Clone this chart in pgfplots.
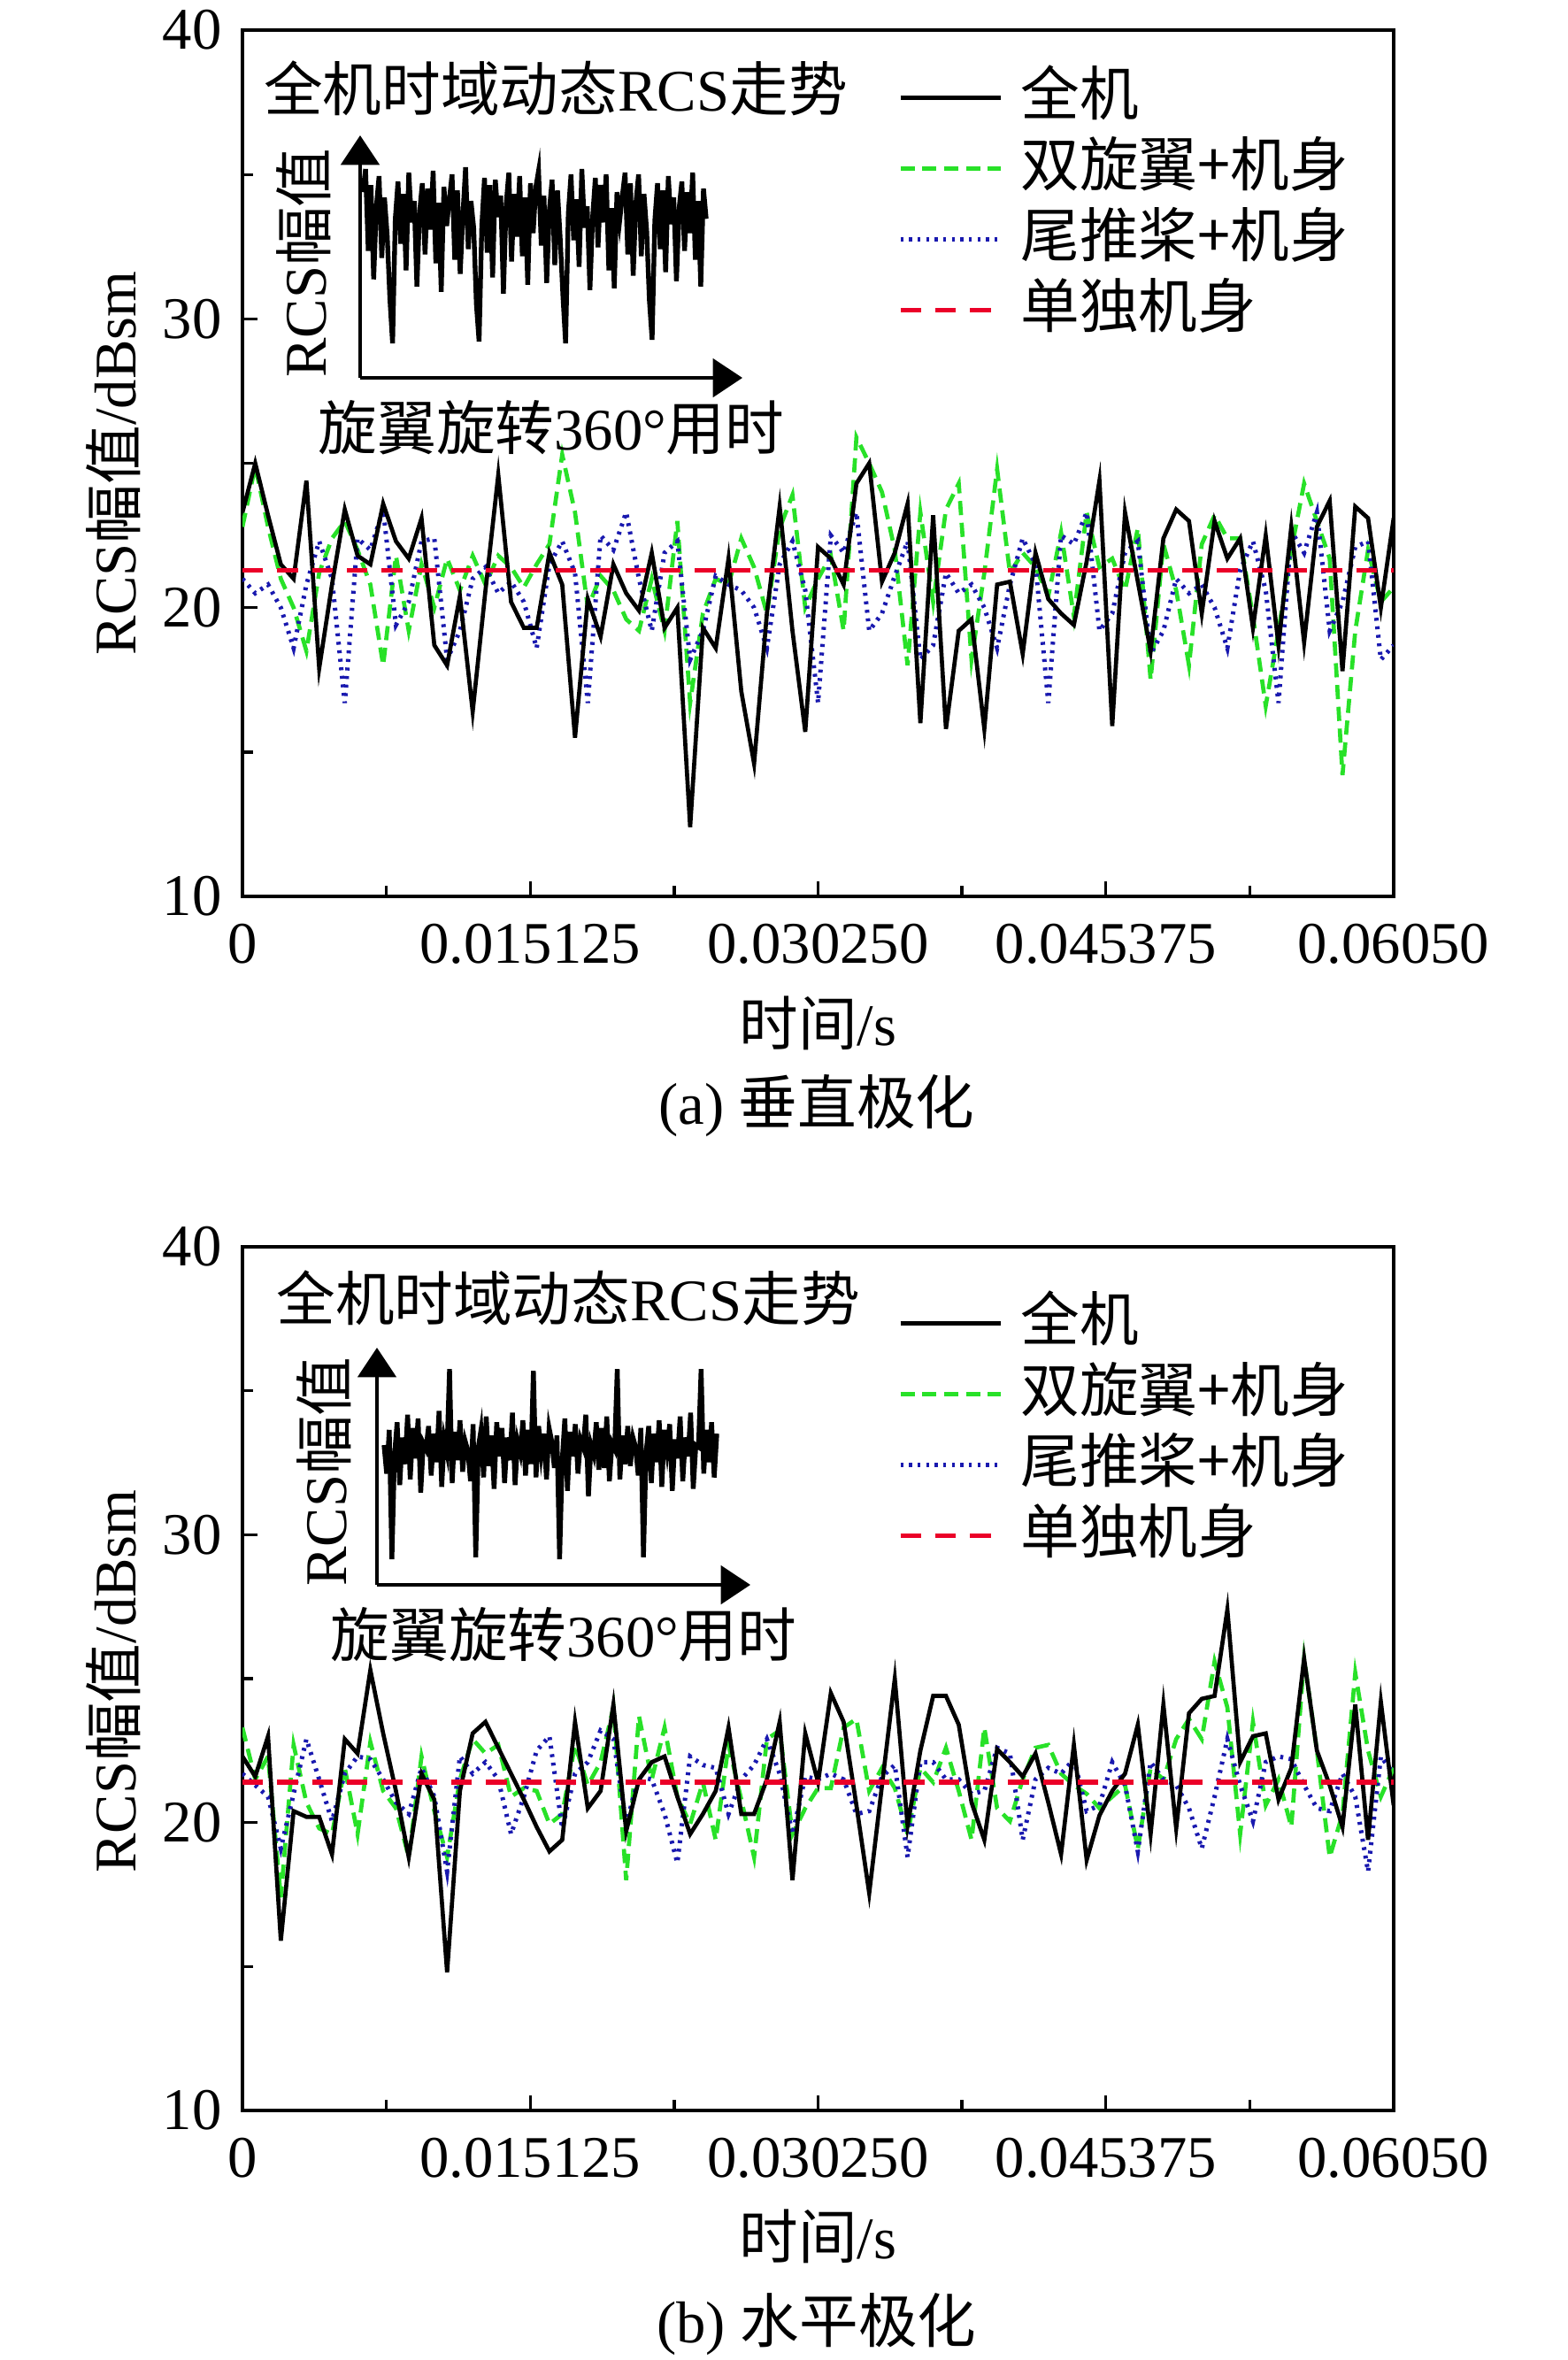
\documentclass[border=0pt]{standalone}
\usepackage{fontspec}
\setmainfont{Liberation Serif}
\newfontfamily\cjk{Noto Sans CJK SC}
\usepackage{pgfplots}
\usepackage{pgfplotstable}
\pgfplotsset{compat=1.18}
\usetikzlibrary{arrows.meta}

\definecolor{cgreen}{RGB}{40,225,40}
\definecolor{cblue}{RGB}{25,25,175}
\definecolor{cred}{RGB}{235,0,40}

% i = sample index (0..90, 4 deg per step), full / rotor / tail in dBsm
\pgfplotstableread{
i full rotor tail
0 23.3 22.8 21.0
1 25.0 24.9 20.5
2 23.2 22.8 20.8
3 21.5 21.0 20.0
4 21.0 20.0 18.6
5 24.4 18.5 20.8
6 17.9 21.2 22.3
7 20.8 22.4 21.0
8 23.4 23.0 16.7
9 21.8 22.0 22.4
10 21.5 20.8 22.0
11 23.6 18.0 23.4
12 22.3 21.8 19.4
13 21.7 19.2 20.2
14 23.1 21.5 22.3
15 18.7 20.0 22.4
16 18.0 21.7 18.2
17 20.4 20.6 19.2
18 16.4 21.8 21.0
19 20.6 20.8 21.4
20 24.6 21.8 20.5
21 20.2 21.4 20.9
22 19.3 20.7 20.2
23 19.3 21.5 18.6
24 21.9 22.2 21.5
25 20.8 25.3 22.3
26 15.5 23.3 21.2
27 20.3 20.0 16.7
28 19.0 21.1 22.5
29 21.5 20.6 22.0
30 20.5 19.6 23.3
31 19.9 19.2 21.0
32 21.9 21.0 19.2
33 19.3 19.2 21.9
34 20.0 23.0 22.3
35 12.4 16.7 18.2
36 19.3 19.8 19.2
37 18.6 21.0 21.1
38 21.7 20.8 20.8
39 17.1 22.4 20.6
40 14.6 21.4 20.0
41 19.8 19.8 18.6
42 23.5 22.75 21.5
43 19.2 23.9 22.3
44 15.7 20.0 20.6
45 22.1 21.0 16.7
46 21.7 21.8 22.5
47 20.8 19.2 21.9
48 24.3 25.9 23.3
49 25.0 25.0 19.2
50 20.9 24.0 19.8
51 21.9 22.0 21.1
52 23.6 18.0 22.3
53 16.0 23.3 18.2
54 23.2 20.2 18.7
55 15.8 23.4 21.2
56 19.2 24.3 20.5
57 19.6 18.2 20.8
58 15.8 21.2 20.0
59 20.8 24.8 18.6
60 20.9 21.2 20.8
61 18.4 21.9 22.4
62 21.9 21.4 21.5
63 20.3 20.4 16.7
64 19.8 22.6 22.5
65 19.4 19.7 22.2
66 21.6 23.3 23.3
67 24.4 21.4 19.2
68 15.9 21.7 19.8
69 23.3 20.6 21.9
70 20.9 22.75 22.3
71 18.5 17.5 18.4
72 22.4 22.2 19.2
73 23.4 20.6 21.0
74 23.0 18.0 20.5
75 19.8 22.2 20.8
76 23.0 23.2 20.0
77 21.7 22.4 18.6
78 22.4 22.4 21.3
79 19.3 19.7 22.3
80 22.5 16.6 20.6
81 18.7 19.2 16.7
82 22.8 22.0 22.65
83 18.8 24.3 21.9
84 22.8 23.0 23.3
85 23.7 21.7 19.2
86 17.8 14.2 20.2
87 23.5 19.2 22.1
88 23.1 22.0 22.3
89 20.0 20.2 18.2
90 23.1 20.7 18.7
}\dataA

\pgfplotstableread{
i full rotor tail
0 22.3 23.3 21.7
1 21.6 21.5 21.3
2 23.0 22.3 20.9
3 15.9 17.4 19.1
4 20.4 22.7 21.0
5 20.2 20.7 22.9
6 20.2 19.8 21.5
7 18.9 19.6 20.05
8 22.9 21.9 21.7
9 22.4 19.6 22.3
10 25.3 22.8 22.2
11 23.1 21.1 21.5
12 21.1 20.5 20.7
13 18.8 18.8 20.3
14 21.7 22.3 21.9
15 20.8 20.4 20.9
16 14.8 18.8 18.3
17 21.1 21.5 22.3
18 23.1 22.9 21.7
19 23.5 22.4 22.1
20 22.6 22.7 21.5
21 21.7 20.9 19.6
22 20.8 21.2 20.9
23 19.85 21.1 22.5
24 19.0 19.95 23.0
25 19.4 20.3 19.8
26 23.5 22.7 21.7
27 20.5 21.3 22.1
28 21.1 22.1 23.2
29 24.1 24.0 22.9
30 19.7 18.0 19.95
31 21.5 23.7 21.6
32 22.1 21.5 21.5
33 22.3 23.3 20.3
34 20.9 20.9 18.6
35 19.6 19.95 22.3
36 20.3 21.4 22.0
37 21.1 19.4 21.9
38 23.3 22.7 20.3
39 20.3 20.8 21.5
40 20.3 18.8 22.0
41 21.5 22.9 22.9
42 23.5 23.2 21.7
43 18.0 19.6 19.6
44 23.1 20.5 21.6
45 21.4 21.2 21.5
46 24.5 21.2 21.7
47 23.5 23.3 21.5
48 20.6 23.6 20.3
49 17.55 21.1 20.4
50 21.3 21.9 21.6
51 25.0 21.2 22.0
52 19.9 19.6 18.8
53 22.5 21.9 22.1
54 24.4 21.4 22.1
55 24.4 22.6 21.5
56 23.4 21.1 21.5
57 20.7 19.4 21.0
58 19.4 23.3 21.1
59 22.55 20.5 22.6
60 22.1 20.05 22.4
61 21.6 21.5 19.4
62 22.4 22.6 21.5
63 20.7 22.7 21.9
64 18.9 21.7 21.7
65 22.7 21.3 22.2
66 18.7 21.0 20.4
67 20.25 20.5 20.6
68 21.1 20.9 22.1
69 21.7 21.3 21.3
70 23.4 19.1 19.0
71 19.6 21.9 22.1
72 24.1 21.5 21.5
73 19.8 22.9 21.3
74 23.8 23.6 20.5
75 24.3 22.9 19.1
76 24.4 25.6 20.9
77 27.4 24.0 22.9
78 22.1 19.6 21.3
79 23.0 23.5 20.05
80 23.1 20.6 22.1
81 20.8 21.5 22.3
82 21.9 19.85 22.2
83 25.7 25.7 21.3
84 22.5 22.5 20.5
85 21.3 18.8 20.4
86 19.85 20.3 21.7
87 24.1 25.2 20.9
88 19.4 22.5 18.3
89 24.2 20.9 22.3
90 20.6 21.9 21.7
}\dataB

% inset sketches (relative RCS magnitude, one value per sample)
\pgfplotstableread[row sep=\\]{v\\
8.5\\ 9.8\\ 5.2\\ 8.9\\ 3.6\\ 7.7\\ 9.4\\ 4.8\\ 8.2\\ 6.1\\ 2.5\\ 0.0\\ 7.0\\ 9.1\\ 5.6\\ 8.4\\ 4.1\\ 9.6\\ 6.8\\ 8.0\\ 3.2\\ 7.4\\ 9.0\\ 5.0\\ 8.7\\ 6.4\\ 9.7\\ 4.5\\ 7.9\\ 2.9\\ 8.8\\ 6.6\\
8.1\\ 9.5\\ 4.7\\ 8.6\\ 3.9\\ 7.2\\ 9.9\\ 5.3\\ 8.0\\ 6.5\\ 2.2\\ 0.1\\ 6.6\\ 9.3\\ 5.1\\ 8.9\\ 3.7\\ 9.2\\ 7.1\\ 8.3\\ 2.8\\ 7.8\\ 9.6\\ 4.6\\ 8.4\\ 6.0\\ 9.4\\ 4.9\\ 8.2\\ 3.3\\ 9.0\\ 6.2\\
8.8\\ 9.7\\ 5.5\\ 8.3\\ 3.4\\ 7.5\\ 9.2\\ 4.4\\ 8.6\\ 5.9\\ 2.7\\ 0.0\\ 7.3\\ 9.5\\ 5.8\\ 8.1\\ 4.3\\ 9.8\\ 6.5\\ 7.7\\ 3.0\\ 7.1\\ 9.3\\ 5.4\\ 8.9\\ 6.8\\ 9.5\\ 4.1\\ 7.6\\ 3.1\\ 8.5\\ 6.9\\
8.3\\ 9.6\\ 5.0\\ 9.0\\ 3.8\\ 7.9\\ 9.5\\ 4.9\\ 8.4\\ 6.3\\ 2.4\\ 0.2\\ 6.9\\ 9.0\\ 5.3\\ 8.6\\ 4.0\\ 9.4\\ 6.7\\ 8.2\\ 3.5\\ 7.6\\ 9.1\\ 5.2\\ 8.5\\ 6.2\\ 9.6\\ 4.7\\ 8.0\\ 3.2\\ 8.7\\ 7.0\\
}\insetA

\pgfplotstableread[row sep=\\]{v\\
6.0\\ 4.5\\ 6.8\\ 0.0\\ 5.5\\ 7.2\\ 3.9\\ 6.4\\ 5.0\\ 7.6\\ 4.2\\ 6.9\\ 5.3\\ 7.4\\ 3.5\\ 6.1\\ 5.8\\ 7.0\\ 4.4\\ 6.6\\ 5.1\\ 7.8\\ 3.8\\ 6.3\\ 5.6\\ 10.0\\ 4.0\\ 6.7\\ 5.2\\ 7.3\\ 4.6\\ 6.2\\
5.7\\ 4.1\\ 7.1\\ 0.1\\ 5.9\\ 6.8\\ 4.3\\ 7.5\\ 4.9\\ 6.5\\ 3.7\\ 7.2\\ 5.4\\ 6.9\\ 4.0\\ 6.4\\ 5.2\\ 7.7\\ 3.9\\ 6.2\\ 5.6\\ 7.3\\ 4.4\\ 6.8\\ 5.0\\ 9.9\\ 4.3\\ 7.0\\ 5.5\\ 6.6\\ 4.2\\ 6.9\\
6.2\\ 4.8\\ 6.5\\ 0.0\\ 5.2\\ 7.4\\ 3.6\\ 6.7\\ 5.4\\ 7.1\\ 4.5\\ 6.3\\ 5.9\\ 7.6\\ 3.3\\ 6.0\\ 5.5\\ 7.2\\ 4.7\\ 6.9\\ 4.8\\ 7.5\\ 4.1\\ 6.1\\ 5.8\\ 10.0\\ 4.2\\ 6.5\\ 5.0\\ 7.0\\ 4.9\\ 6.4\\
5.9\\ 4.4\\ 6.9\\ 0.1\\ 5.6\\ 7.0\\ 4.0\\ 6.6\\ 5.1\\ 7.3\\ 3.8\\ 6.8\\ 5.7\\ 7.1\\ 3.6\\ 6.3\\ 5.3\\ 7.5\\ 4.1\\ 6.4\\ 5.4\\ 7.7\\ 3.7\\ 6.0\\ 5.9\\ 10.0\\ 4.5\\ 6.8\\ 5.1\\ 7.2\\ 4.3\\ 6.6\\
}\insetB

\pgfplotsset{
  mainax/.style={
    scale only axis, width=195.15pt,
    xmin=0, xmax=90, ymin=10, ymax=40,
    xtick={0,22.5,45,67.5,90},
    xticklabels={0,0.015125,0.030250,0.045375,0.06050},
    minor xtick={11.25,33.75,56.25,78.75},
    ytick={10,20,30,40}, minor ytick={15,25,35},
    tick align=inside, xtick pos=bottom, ytick pos=left,
    major tick length=2.5pt, minor tick length=1.8pt,
    every tick/.style={black, line width=0.5pt},
    axis line style={line width=0.6pt},
    /pgf/number format/assume math mode=true,
    xticklabel style={yshift=-1.1pt},
    xlabel={{\cjk 时间}/s},
    every axis x label/.style={at={(axis description cs:0.5,-0.146)}, anchor=center},
    legend cell align=left,
    legend style={draw=none, fill=none, font=\cjk, inner sep=0pt, row sep=0pt,
      nodes={inner sep=1.5pt, text height=7.5pt, text depth=1.5pt},
      /tikz/every odd column/.append style={column sep=1.4pt}},
  },
  sfull/.style={black, line width=0.7pt},
  srotor/.style={cgreen, line width=0.7pt, dash pattern=on 2.4pt off 1.3pt},
  stail/.style={cblue, line width=0.75pt, dash pattern=on 0.5pt off 0.95pt},
  sbody/.style={cred, line width=0.8pt, dash pattern=on 3.5pt off 2.4pt},
  inset/.style={scale only axis, axis lines=left,
    axis line style={line width=0.6pt, -{Triangle[length=5pt,width=6.5pt]}},
    xtick=\empty, ytick=\empty},
}

\begin{document}
\begin{tikzpicture}
\useasboundingbox (0,0) rectangle (265.8pt,-400.05pt);

% ---------- panel (a) ----------
\begin{axis}[mainax, at={(41.1pt,-151.95pt)}, anchor=south west, height=146.85pt,
  legend style={at={(0.5685,0.964)}, anchor=north west}]
\addlegendimage{sfull}\addlegendentry{全机}
\addlegendimage{srotor}\addlegendentry{双旋翼+机身}
\addlegendimage{stail}\addlegendentry{尾推桨+机身}
\addlegendimage{sbody}\addlegendentry{单独机身}
\addplot[srotor, forget plot] table[x=i, y=rotor] {\dataA};
\addplot[stail, forget plot] table[x=i, y=tail] {\dataA};
\addplot[sfull, forget plot] table[x=i, y=full] {\dataA};
\addplot[sbody, forget plot] coordinates {(0,21.3) (90,21.3)};
\end{axis}

\begin{axis}[inset, at={(61.05pt,-64.05pt)}, anchor=south west, width=64.8pt, height=41.1pt,
  xmin=-1, xmax=140.4, ymin=-1.94, ymax=11.69]
\addplot[black, line width=0.8pt] table[x expr=\coordindex, y=v] {\insetA};
\end{axis}

\node[anchor=west, inner sep=0pt] at (44.55pt,-15pt) {{\cjk 全机时域动态}RCS{\cjk 走势}};
\node[rotate=90, inner sep=0pt] at (51.45pt,-44.55pt) {RCS{\cjk 幅值}};
\node[inner sep=0pt] at (93.45pt,-72.45pt) {{\cjk 旋翼旋转}360°{\cjk 用时}};
\node[rotate=90, inner sep=0pt] at (19.2pt,-78.5pt) {RCS{\cjk 幅值}/dBsm};
\node[inner sep=0pt] at (138.45pt,-187.5pt) {(a) {\cjk 垂直极化}};

% ---------- panel (b) ----------
\begin{axis}[mainax, at={(41.1pt,-357.75pt)}, anchor=south west, height=146.4pt,
  legend style={at={(0.5685,0.954)}, anchor=north west}]
\addlegendimage{sfull}\addlegendentry{全机}
\addlegendimage{srotor}\addlegendentry{双旋翼+机身}
\addlegendimage{stail}\addlegendentry{尾推桨+机身}
\addlegendimage{sbody}\addlegendentry{单独机身}
\addplot[srotor, forget plot] table[x=i, y=rotor] {\dataB};
\addplot[stail, forget plot] table[x=i, y=tail] {\dataB};
\addplot[sfull, forget plot] table[x=i, y=full] {\dataB};
\addplot[sbody, forget plot] coordinates {(0,21.4) (90,21.4)};
\end{axis}

\begin{axis}[inset, at={(63.9pt,-268.65pt)}, anchor=south west, width=63.3pt, height=40.2pt,
  xmin=-2.7, xmax=139.8, ymin=-1.35, ymax=11.12]
\addplot[black, line width=0.8pt] table[x expr=\coordindex, y=v] {\insetB};
\end{axis}

\node[anchor=west, inner sep=0pt] at (46.65pt,-220.05pt) {{\cjk 全机时域动态}RCS{\cjk 走势}};
\node[rotate=90, inner sep=0pt] at (54.9pt,-249.45pt) {RCS{\cjk 幅值}};
\node[inner sep=0pt] at (95.55pt,-277.05pt) {{\cjk 旋翼旋转}360°{\cjk 用时}};
\node[rotate=90, inner sep=0pt] at (19.2pt,-285pt) {RCS{\cjk 幅值}/dBsm};
\node[inner sep=0pt] at (138.45pt,-394.05pt) {(b) {\cjk 水平极化}};
\end{tikzpicture}
\end{document}
